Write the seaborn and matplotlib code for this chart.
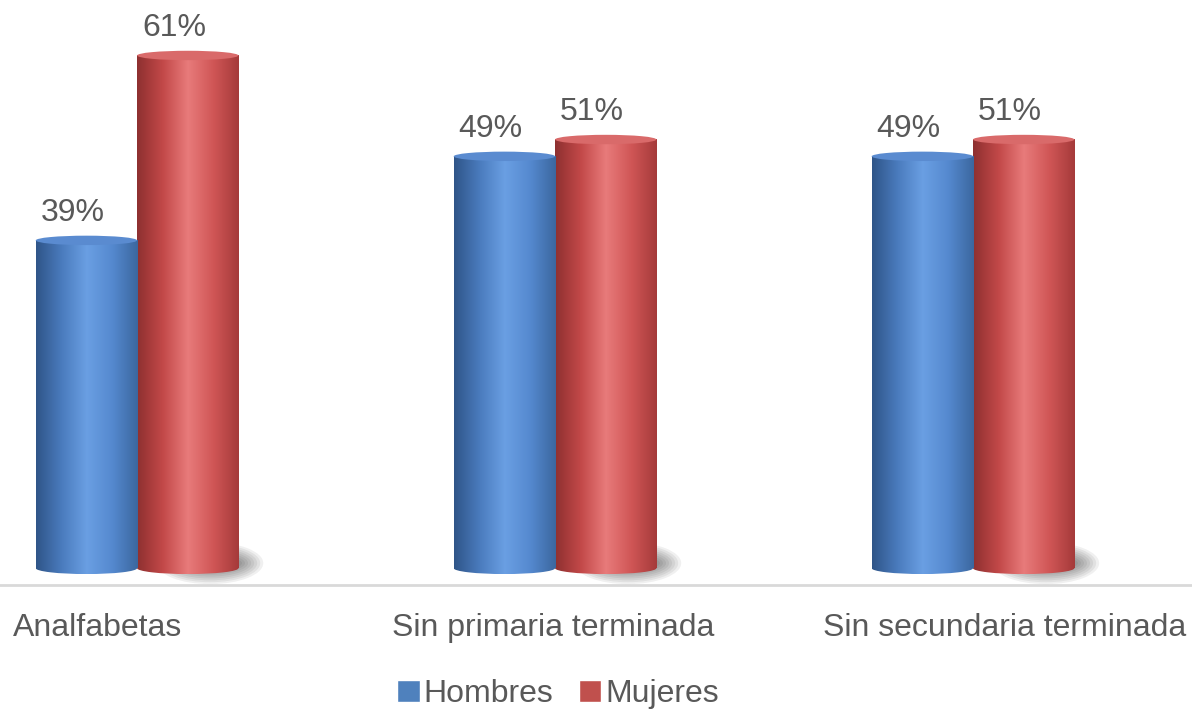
import numpy as np
import pandas as pd
import matplotlib
matplotlib.use('Agg')
import matplotlib.pyplot as plt
import matplotlib.transforms as mtransforms
import seaborn as sns
from matplotlib.colors import LinearSegmentedColormap
from matplotlib.patches import Ellipse, Patch

# Data
categories = ['Analfabetas', 'Sin primaria terminada', 'Sin secundaria terminada']
hombres = [39, 49, 49]
mujeres = [61, 51, 51]
series = ['Hombres', 'Mujeres']

df = pd.DataFrame({
    'categoria': categories * 2,
    'valor': hombres + mujeres,
    'sexo': ['Hombres'] * 3 + ['Mujeres'] * 3,
})

base_colors = {'Hombres': '#4f81bd', 'Mujeres': '#c0504d'}
grad_colors = {
    'Hombres': ['#2f5588', '#4a7bbd', '#6a9fe3', '#5589cf', '#3b679f'],
    'Mujeres': ['#8e3030', '#c24848', '#e87b7b', '#d05656', '#a53a3a'],
}
top_colors = {'Hombres': '#5a8bd0', 'Mujeres': '#d96a6a'}
text_color = '#595959'

sns.set_theme(style='white')
plt.rcParams['font.family'] = ['Liberation Sans', 'DejaVu Sans']

fig = plt.figure(figsize=(11.92, 7.14), dpi=100)
ax = fig.add_axes([0, 0.1807, 1, 0.8193])

sns.barplot(data=df, x='categoria', y='valor', hue='sexo', order=categories,
            hue_order=series, palette=base_colors, width=0.485, gap=0,
            legend=False, ax=ax)

eh = 0.7  # half-height of the cylinder ellipses (data units)
bars = list(ax.patches)
for i, patch in enumerate(bars):
    s = series[i // len(categories)]
    x0 = patch.get_x()
    w = patch.get_width()
    h = patch.get_height()
    xc = x0 + w / 2
    patch.set_facecolor('none')
    patch.set_edgecolor('none')
    cmap = LinearSegmentedColormap.from_list(s, grad_colors[s])
    grad = np.linspace(0, 1, 256).reshape(1, -1)
    z = 3 if s == 'Hombres' else 2
    # shadow behind the red cylinders
    if s == 'Mujeres':
        for k in range(8):
            ax.add_patch(Ellipse((x0 + w * 0.72, 0.6), w * (1.05 - k * 0.06),
                                 5.0 - k * 0.45, facecolor='black',
                                 alpha=0.06, edgecolor='none', zorder=1))
    ax.imshow(grad, extent=[x0, x0 + w, 0, h], aspect='auto', cmap=cmap,
              zorder=z, interpolation='bicubic')
    bottom = Ellipse((xc, 0), w, 2 * eh, facecolor='none', edgecolor='none')
    ax.add_patch(bottom)
    im = ax.imshow(grad, extent=[x0, x0 + w, -eh, 0], aspect='auto',
                   cmap=cmap, zorder=z, interpolation='bicubic')
    im.set_clip_path(bottom)
    ax.add_patch(Ellipse((xc, h), w, 2 * eh * 0.8, facecolor=top_colors[s],
                         edgecolor='none', zorder=z + 0.1))
    ax.annotate(f'{h:.0f}%', (xc, h), xytext=(-10, 9),
                textcoords='offset points', ha='center', va='bottom',
                fontsize=23, color=text_color)

ax.set_xlim(-0.328, 2.524)
ax.set_ylim(-2.0, 67.6)
ax.set_xlabel('')
ax.set_ylabel('')
ax.set_yticks([])
ax.tick_params(axis='x', length=0, pad=20, labelsize=23, labelcolor=text_color)
# the category labels sit a little off the bar centres in the original
for lbl, dx in zip(ax.get_xticklabels(), [-40, -2, 32]):
    lbl.set_transform(lbl.get_transform() +
                      mtransforms.ScaledTranslation(dx / 100, 0, fig.dpi_scale_trans))
for side in ['top', 'left', 'right']:
    ax.spines[side].set_visible(False)
ax.spines['bottom'].set_color('#d9d9d9')
ax.spines['bottom'].set_linewidth(2)

handles = [Patch(facecolor=base_colors[s], label=s) for s in series]
fig.legend(handles=handles, loc='center', bbox_to_anchor=(0.468, 0.028),
           ncol=2, frameon=False, fontsize=23, labelcolor=text_color,
           handlelength=0.7, handleheight=0.7, handletextpad=0.12,
           columnspacing=0.8)

fig.savefig('out.png', dpi=100)
